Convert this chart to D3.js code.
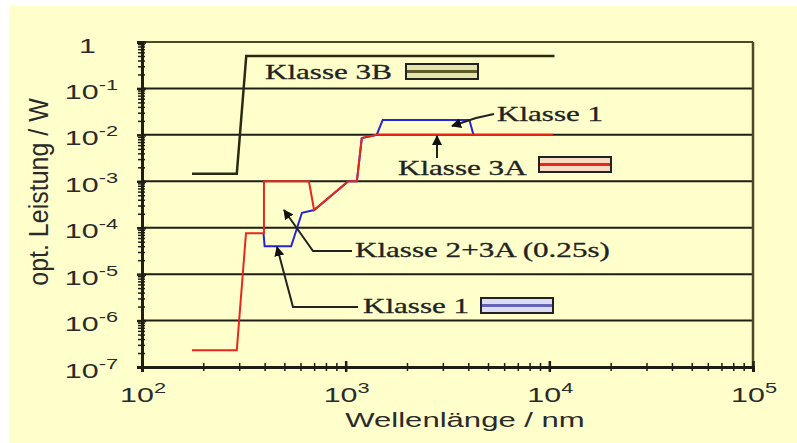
<!DOCTYPE html>
<html>
<head>
<meta charset="utf-8">
<script src="https://cdn.jsdelivr.net/npm/d3@7"></script>
<style>
body { margin: 0; background: #fff; }
svg { display: block; }
</style>
</head>
<body>
<div id="chart"></div>
<script>
// limit curves: wavelength (nm) / optical power (W)
var klasse3B = [[176, 1.45e-3], [292, 1.45e-3], [325, 0.5], [10600, 0.5]];
var klasse3A = [[176, 2.3e-7], [292, 2.3e-7], [324, 7.6e-5], [397, 7.6e-5], [397, 1e-3],
    [660, 1e-3], [700, 2.4e-4], [1030, 1e-3], [1135, 1e-3], [1200, 8.5e-3], [1420, 1e-2], [10400, 1e-2]];
var klasse1 = [[395, 7.6e-5], [400, 4e-5], [540, 4e-5], [610, 2.1e-4], [700, 2.4e-4],
    [1030, 1e-3], [1135, 1e-3], [1200, 8.5e-3], [1420, 1e-2], [1520, 2.1e-2], [4050, 2.1e-2], [4240, 1e-2]];

var xMajor = [1e2, 1e3, 1e4, 1e5];
var xLabelExp = ["2", "3", "4", "5"];
var yMajor = [1e-7, 1e-6, 1e-5, 1e-4, 1e-3, 1e-2, 1e-1, 1];
var yLabelExp = ["-7", "-6", "-5", "-4", "-3", "-2", "-1", ""];

var width = 797, height = 443;
var margin = {left: 142, right: 44, top: 42, bottom: 76};
var sx = 1.45; // the original picture is stretched horizontally

var svg = d3.select("#chart").append("svg")
    .attr("width", width)
    .attr("height", height);

svg.append("rect")
    .attr("x", 9).attr("y", 6)
    .attr("width", width - 9).attr("height", height - 6)
    .attr("fill", "#ffffcc");

var x = d3.scaleLog().domain([1e2, 1e5]).range([margin.left, width - margin.right]);
var y = d3.scaleLog().domain([1e-7, 1]).range([height - margin.bottom, margin.top]);

function minorTicks(lo, hi) {
    var out = [];
    for (var e = lo; e < hi; e++) {
        for (var m = 2; m <= 9; m++) out.push(m * Math.pow(10, e));
    }
    return out;
}

// text stretched in x like the reference
function stext(tx, ty, anchor, s) {
    return svg.append("text")
        .attr("transform", "translate(" + tx + "," + ty + ") scale(" + (s || sx) + ",1)")
        .attr("text-anchor", anchor || "start");
}

// horizontal grid lines
svg.append("g").selectAll("line").data(yMajor.slice(1)).enter()
    .append("line")
    .attr("x1", x(1e2)).attr("x2", x(1e5))
    .attr("y1", function(d) { return y(d); })
    .attr("y2", function(d) { return y(d); })
    .attr("stroke", function(d) { return d == 1 ? "#4a4a26" : "#1e1e14"; })
    .attr("stroke-width", 2);

// right border
svg.append("line")
    .attr("x1", x(1e5)).attr("x2", x(1e5))
    .attr("y1", y(1)).attr("y2", y(1e-7))
    .attr("stroke", "#4a4a26").attr("stroke-width", 2.5);

// y axis ticks
var yAxis = svg.append("g").attr("transform", "translate(" + x(1e2) + ",0)");
yAxis.append("g").call(d3.axisLeft(y).tickValues(minorTicks(-7, 0)).tickSize(4).tickFormat(""))
    .selectAll(".tick line").attr("x1", 3).attr("stroke-width", 1.5);
yAxis.append("g").call(d3.axisLeft(y).tickValues(yMajor).tickSize(5).tickFormat(""))
    .selectAll(".tick line").attr("x1", 4).attr("stroke-width", 2.5);
yAxis.selectAll(".domain").attr("stroke", "#1e1e14").attr("stroke-width", 3);
yAxis.selectAll(".tick line").attr("stroke", "#1e1e14");

// x axis ticks
var xAxis = svg.append("g").attr("transform", "translate(0," + y(1e-7) + ")");
xAxis.append("g").call(d3.axisBottom(x).tickValues(minorTicks(2, 5)).tickSize(4).tickFormat(""))
    .selectAll(".tick line").attr("y1", -4).attr("stroke-width", 1.5);
xAxis.append("g").call(d3.axisBottom(x).tickValues(xMajor).tickSize(5).tickFormat(""))
    .selectAll(".tick line").attr("y1", -6).attr("stroke-width", 2.5);
xAxis.selectAll(".domain").attr("stroke", "#1e1e14").attr("stroke-width", 3);
xAxis.selectAll(".tick line").attr("stroke", "#1e1e14");

// tick labels
var sans = "Liberation Sans, Arial, sans-serif";
yMajor.forEach(function(v, i) {
    var t;
    if (yLabelExp[i] === "") {
        t = stext(96, y(v) + 10.5, "end").text("1");
    } else {
        t = stext(118, y(v) + 10.5, "end");
        t.append("tspan").text("10");
        t.append("tspan").attr("font-size", 15).attr("dy", -9).text(yLabelExp[i]);
    }
    t.attr("font-family", sans).attr("font-size", 21).attr("fill", "#2a2a2a");
});
xMajor.forEach(function(v, i) {
    var t = stext(x(v) + 1, y(1e-7) + 35, "middle")
        .attr("font-family", sans).attr("font-size", 21).attr("fill", "#2a2a2a");
    t.append("tspan").text("10");
    t.append("tspan").attr("font-size", 15).attr("dy", -9).text(xLabelExp[i]);
});

// axis titles
stext(465, 427, "middle", 1.48)
    .attr("font-family", sans).attr("font-size", 21).attr("fill", "#2a2a2a")
    .text("Wellenlänge / nm");
svg.append("text")
    .attr("transform", "translate(48,192) scale(1.12,1) rotate(-90)")
    .attr("text-anchor", "middle")
    .attr("font-family", sans).attr("font-size", 25).attr("fill", "#2a2a2a")
    .text("opt. Leistung / W");

// curves
var line = d3.line()
    .x(function(d) { return x(d[0]); })
    .y(function(d) { return y(d[1]); });

svg.append("path").datum(klasse1)
    .attr("d", line).attr("fill", "none")
    .attr("stroke", "#2424d8").attr("stroke-width", 2);
svg.append("path").datum(klasse3A)
    .attr("d", line).attr("fill", "none")
    .attr("stroke", "#e8261e").attr("stroke-width", 2);
svg.append("path").datum(klasse3B)
    .attr("d", line).attr("fill", "none")
    .attr("stroke", "#2a2a12").attr("stroke-width", 2.5);

// annotations
var serif = "Liberation Serif, Times New Roman, serif";
function label(tx, ty, s) {
    stext(tx, ty, "start", 1.48)
        .attr("font-family", serif).attr("font-size", 21).attr("fill", "#222")
        .attr("stroke", "#222").attr("stroke-width", 0.3)
        .text(s);
}
function legendBox(bx, by, fill, mid) {
    svg.append("rect")
        .attr("x", bx).attr("y", by).attr("width", 72).attr("height", 15)
        .attr("fill", fill).attr("stroke", "#222").attr("stroke-width", 2);
    svg.append("line")
        .attr("x1", bx + 1).attr("x2", bx + 71)
        .attr("y1", by + 7.5).attr("y2", by + 7.5)
        .attr("stroke", mid).attr("stroke-width", 3);
}
svg.append("defs").append("marker")
    .attr("id", "arr").attr("viewBox", "0 0 10 10")
    .attr("refX", 9).attr("refY", 5)
    .attr("markerWidth", 5).attr("markerHeight", 5)
    .attr("orient", "auto")
    .append("path").attr("d", "M0,0 L10,5 L0,10 z").attr("fill", "#111");
function leader(pts) {
    svg.append("path")
        .attr("d", d3.line()(pts))
        .attr("fill", "none").attr("stroke", "#222").attr("stroke-width", 2)
        .attr("marker-end", "url(#arr)");
}

label(265, 79, "Klasse 3B");
legendBox(406, 64, "#e4e4a8", "#5a5a2a");

label(497, 121, "Klasse 1");
leader([[494, 114], [476, 118], [452, 126]]);

label(398, 175, "Klasse 3A");
legendBox(539, 157, "#f8dcc4", "#e8261e");
leader([[437, 158], [437, 136]]);

label(355, 257, "Klasse 2+3A (0.25s)");
leader([[352, 251], [313, 251], [284, 210]]);

label(363, 313, "Klasse 1");
legendBox(481, 298, "#dcdcf4", "#6464b4");
leader([[358, 307], [293, 307], [277, 247]]);
</script>
</body>
</html>
